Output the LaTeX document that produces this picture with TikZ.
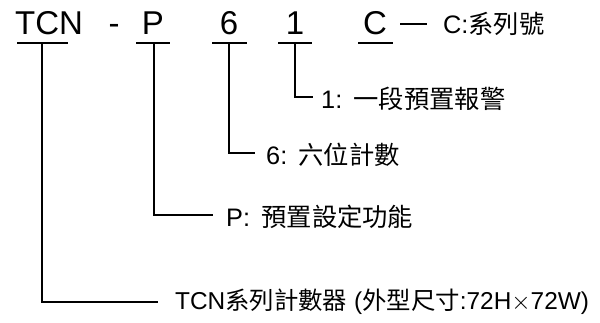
\documentclass[tikz,border=0pt]{standalone}
\usepackage{fontspec}
\setmainfont{Liberation Sans}
\newfontfamily\cjk{Noto Sans CJK TC}
\begin{document}
\begin{tikzpicture}[x=1pt,y=-1pt,
  big/.style={inner sep=0pt,font=\fontsize{33}{33}\selectfont,anchor=base},
  lbl/.style={inner sep=0pt,anchor=west,font=\fontsize{25.3}{25.3}\selectfont},
  conn/.style={line width=2.3pt},
  uline/.style={line width=1.8pt}]
\useasboundingbox (0,0) rectangle (600,323);
% top code
\node[big] (tcn) at (49,35) {TCN};
\node[big] (dash) at (114,35) {-};
\node[big] (p) at (153,35) {P};
\node[big] (six) at (229,35) {6};
\node[big] (one) at (295,35) {1};
\node[big] (c) at (375,35) {C};
% underlines
\coordinate (u1a) at (17,43); \coordinate (u1b) at (68,43);
\coordinate (u2a) at (136,43); \coordinate (u2b) at (170,43);
\coordinate (u3a) at (212,43); \coordinate (u3b) at (247,43);
\coordinate (u4a) at (278,43); \coordinate (u4b) at (312,43);
\coordinate (u5a) at (358,43); \coordinate (u5b) at (393,43);
\draw[uline] (u1a) -- (u1b);
\draw[uline] (u2a) -- (u2b);
\draw[uline] (u3a) -- (u3b);
\draw[uline] (u4a) -- (u4b);
\draw[uline] (u5a) -- (u5b);
% labels
\node[lbl] (lc) at (443,24) {C:{\cjk 系列號}};
\node[lbl] (l1) at (321,99) {1:\hspace{0.45em}{\cjk 一段預置報警}};
\node[lbl] (l6) at (266,155) {6:\hspace{0.45em}{\cjk 六位計數}};
\node[lbl] (lp) at (226,217) {P:\hspace{0.45em}{\cjk 預置設定功能}};
\node[lbl,font=\fontsize{24.4}{24.4}\selectfont] (lt) at (175,302) {TCN{\cjk 系列計數器} ({\cjk 外型尺寸}:72H$\times$72W)};
% connectors
\draw[conn] (400,24) -- (427,24);
\draw[conn] (295,43) |- (313,97);
\draw[conn] (229,43) |- (255,153);
\draw[conn] (154,43) |- (213,215);
\draw[conn] (42,43) |- (158,302);
\end{tikzpicture}
\end{document}
